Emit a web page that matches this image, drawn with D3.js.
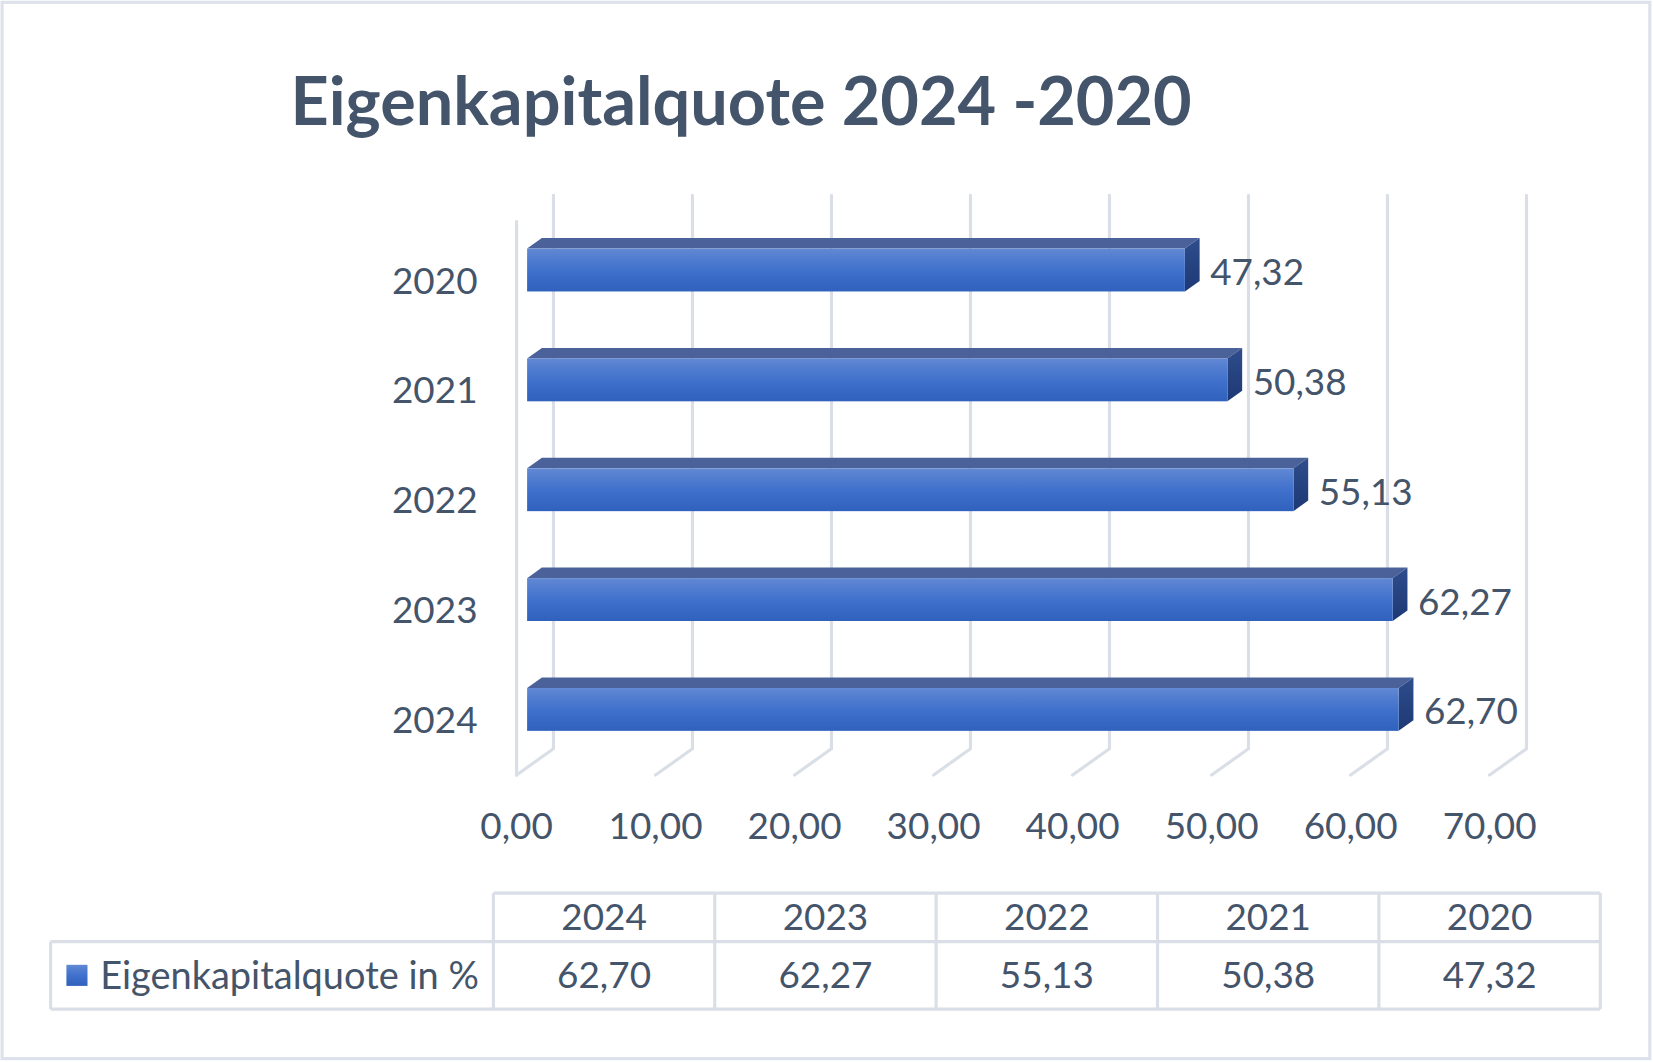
<!DOCTYPE html>
<html><head><meta charset="utf-8">
<script src="https://cdn.jsdelivr.net/npm/d3@7"></script>
<style>html,body{margin:0;padding:0;background:#fff;}svg{display:block;}</style>
</head><body>
<svg id="c" width="1653" height="1062" viewBox="0 0 1568 1007"></svg>
<script>
const title = "Eigenkapitalquote 2024 -2020";
const years = ["2020","2021","2022","2023","2024"];
const values = [47.32, 50.38, 55.13, 62.27, 62.70];
const ticks = [0,10,20,30,40,50,60,70];
const tableYears = ["2024","2023","2022","2021","2020"];
const tableValues = [62.70, 62.27, 55.13, 50.38, 47.32];
const seriesName = "Eigenkapitalquote in %";

const fmt = v => d3.format(".2f")(v).replace(".", ",");
const txt = "#44546a", grid = "#dadee6";
const FONT = "Lato, 'Open Sans', sans-serif";
const svg = d3.select("#c");

const defs = svg.append("defs");
const gF = defs.append("linearGradient").attr("id","gFront").attr("x1",0).attr("y1",0).attr("x2",0).attr("y2",1);
gF.append("stop").attr("offset","0%").attr("stop-color","#6188d3");
gF.append("stop").attr("offset","50%").attr("stop-color","#4071cc");
gF.append("stop").attr("offset","100%").attr("stop-color","#2f61bd");
const gS = defs.append("linearGradient").attr("id","gSide").attr("x1",0).attr("y1",0).attr("x2",0).attr("y2",1);
gS.append("stop").attr("offset","0%").attr("stop-color","#2f4d8c");
gS.append("stop").attr("offset","100%").attr("stop-color","#1d3975");

// outer border
svg.append("rect").attr("x",2).attr("y",2).attr("width",1563).attr("height",1002)
  .attr("fill","#fff").attr("stroke","#dde2ea").attr("stroke-width",3);

// title
const t = svg.append("text").attr("x",703).attr("y",118).attr("text-anchor","middle")
  .attr("font-family",FONT).attr("font-weight",700).attr("font-size",60).attr("fill",txt).text(title);
const tw = t.node().getComputedTextLength();
t.attr("font-size", 60*855/tw);

// 3D geometry
const DX = 35, DY = -25;
const x = d3.scaleLinear().domain([0,70]).range([490,1413]);
const y = d3.scaleBand().domain(years).range([211,732]);
const P = (v, yy, d) => [x(v) + DX*d, yy + DY*d];
const d0 = 10/35, d1 = 24/35;

// grid
const gg = svg.append("g").attr("fill","none").attr("stroke",grid).attr("stroke-width",3).attr("stroke-linecap","round");
ticks.forEach(tk => {
  const a = P(tk, 210, 1), b = P(tk, 735, 1), c = P(tk, 735, 0);
  gg.append("path").attr("d", d3.line()([a,b,c]));
});
gg.append("path").attr("d", d3.line()([P(0,210,0),P(0,735,0)]));

// axis labels
svg.append("g").selectAll("text").data(ticks).join("text")
  .attr("x", d => x(d)).attr("y", 783).attr("dy","0.35em").attr("text-anchor","middle")
  .attr("font-family",FONT).attr("font-size",35).attr("fill",txt).text(fmt);
svg.append("g").selectAll("text").data(years).join("text")
  .attr("x", 453).attr("y", d => y(d) + y.bandwidth()/2 + 3).attr("dy","0.35em").attr("text-anchor","end")
  .attr("font-family",FONT).attr("font-size",35).attr("fill",txt).text(d => d);

// bars
const bh = y.bandwidth()*0.39;
const bars = svg.append("g");
years.forEach((yr, i) => {
  const v = values[i];
  const yt = y(yr) + y.bandwidth()/2 - bh/2, yb = yt + bh;
  const g = bars.append("g");
  g.append("path").attr("fill","#4a6299").attr("d", d3.line()([P(0,yt,d0),P(v,yt,d0),P(v,yt,d1),P(0,yt,d1)]) + "Z");
  g.append("path").attr("fill","url(#gSide)").attr("d", d3.line()([P(v,yt,d0),P(v,yt,d1),P(v,yb,d1),P(v,yb,d0)]) + "Z");
  const f0 = P(0,yt,d0), f1 = P(v,yb,d0);
  g.append("rect").attr("x",f0[0]).attr("y",f0[1]).attr("width",f1[0]-f0[0]).attr("height",f1[1]-f0[1]).attr("fill","url(#gFront)");
  const lp = P(v, (yt+yb)/2, d1);
  g.append("text").attr("x", lp[0] + 10).attr("y", (yt+yb)/2 + DY*d0 + 2).attr("dy","0.35em")
    .attr("font-family",FONT).attr("font-size",35).attr("fill",txt).text(fmt(v));
});

// data table
const tx = d3.scaleBand().domain(tableYears).range([468,1518]);
const tb = svg.append("g");
const ln = (x1,y1,x2,y2) => tb.append("line").attr("x1",x1).attr("y1",y1).attr("x2",x2).attr("y2",y2)
  .attr("stroke",grid).attr("stroke-width",3);
ln(468,847,1518,847); ln(48,893,1518,893); ln(48,957,1518,957);
ln(48,893,48,957);
tableYears.forEach(yr => ln(tx(yr),847,tx(yr),957));
ln(1518,847,1518,957);
tb.selectAll("text.h").data(tableYears).join("text").attr("class","h")
  .attr("x", d => tx(d) + tx.bandwidth()/2).attr("y",870).attr("dy","0.35em").attr("text-anchor","middle")
  .attr("font-family",FONT).attr("font-size",35).attr("fill",txt).text(d => d);
tb.selectAll("text.v").data(tableValues).join("text").attr("class","v")
  .attr("x", (d,i) => tx(tableYears[i]) + tx.bandwidth()/2).attr("y",925).attr("dy","0.35em").attr("text-anchor","middle")
  .attr("font-family",FONT).attr("font-size",35).attr("fill",txt).text(fmt);
tb.append("rect").attr("x",63).attr("y",915).attr("width",20).attr("height",20).attr("fill","url(#gFront)");
const lt = tb.append("text").attr("x",95).attr("y",925).attr("dy","0.35em")
  .attr("font-family",FONT).attr("font-size",36).attr("fill",txt).text(seriesName);
</script>
</body></html>
